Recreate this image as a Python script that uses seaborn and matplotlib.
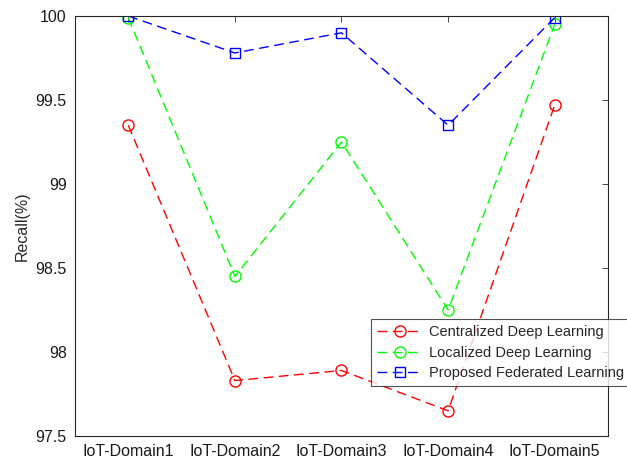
import matplotlib
matplotlib.use("Agg")
import matplotlib.pyplot as plt
import seaborn as sns
import pandas as pd

categories = ["IoT-Domain1", "IoT-Domain2", "IoT-Domain3", "IoT-Domain4", "IoT-Domain5"]
centralized = [99.35, 97.83, 97.89, 97.65, 99.47]
localized = [99.99, 98.45, 99.25, 98.25, 99.95]
federated = [100.0, 99.78, 99.90, 99.35, 99.99]
series_names = ["Centralized Deep Learning", "Localized Deep Learning", "Proposed Federated Learning"]
y_ticks = [97.5, 98, 98.5, 99, 99.5, 100]
y_tick_labels = ["97.5", "98", "98.5", "99", "99.5", "100"]

sns.set_style("white")
plt.rcParams["font.family"] = ["Liberation Sans", "DejaVu Sans"]

rows = []
for name, vals in zip(series_names, [centralized, localized, federated]):
    for c, v in zip(categories, vals):
        rows.append({"Domain": c, "Recall": v, "Series": name})
df = pd.DataFrame(rows)

fig = plt.figure(figsize=(6.27, 4.67), dpi=100)
ax = fig.add_axes([0.1196, 0.0664, 0.8501, 0.8993])

colors = {"Centralized Deep Learning": "#ff0000",
          "Localized Deep Learning": "#00ff00",
          "Proposed Federated Learning": "#0000ff"}
markers = {"Centralized Deep Learning": "o",
           "Localized Deep Learning": "o",
           "Proposed Federated Learning": "s"}

for name in series_names:
    sub = df[df["Series"] == name]
    sns.lineplot(data=sub, x="Domain", y="Recall", ax=ax, sort=False,
                 color=colors[name], linestyle=(0, (7, 4)), linewidth=1.0,
                 marker=markers[name], markersize=8 if markers[name] == "o" else 6.5,
                 markerfacecolor="none", markeredgecolor=colors[name],
                 markeredgewidth=1.0, label=name)

ax.set_xlim(-0.5, 4.5)
ax.set_ylim(97.5, 100)
ax.set_yticks(y_ticks)
ax.set_yticklabels(y_tick_labels)
ax.set_xlabel("")
ax.set_ylabel("Recall(%)", fontsize=11.5, labelpad=4)
for s in ax.spines.values():
    s.set_visible(True)
    s.set_color("#262626")
    s.set_linewidth(0.8)
ax.tick_params(direction="in", length=4, width=0.6, colors="#262626",
               labelsize=11.5, top=True, right=True, labelcolor="#1a1a1a", pad=6)

leg = ax.legend(loc="upper left", bbox_to_anchor=(0.555, 0.278), fontsize=10.5,
                frameon=True, fancybox=False, edgecolor="#262626",
                handlelength=3.2, borderpad=0.4, labelspacing=0.45,
                handletextpad=0.4, borderaxespad=0)
leg.get_frame().set_linewidth(0.8)

fig.savefig("out.png", dpi=100)
